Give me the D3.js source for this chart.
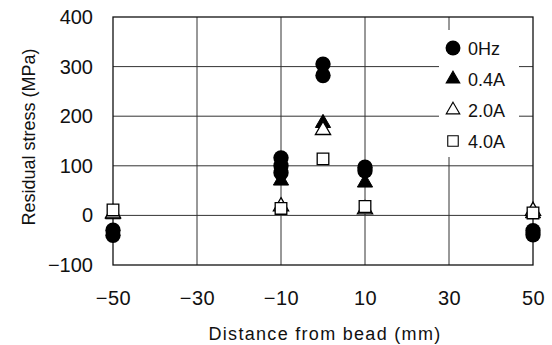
<!DOCTYPE html>
<meta charset="utf-8">
<head>
  <title>Residual stress</title>
</head>
<style>
  body { margin: 0; background: #fff; font-family: "Liberation Sans", Arial, sans-serif; }
  text { fill: #111; }
</style>
<body>
<svg id="chart" width="552" height="345"></svg>
<script src="https://cdnjs.cloudflare.com/ajax/libs/d3/7.8.5/d3.min.js"></script>
<script>
  var xTicks = [-50, -30, -10, 10, 30, 50];
  var yTicks = [-100, 0, 100, 200, 300, 400];

  var hz0 = [[-50, -30], [-50, -40], [-10, 116], [-10, 100], [-10, 86], [0, 305], [0, 282], [10, 97], [10, 90], [50, -31], [50, -39]];
  var a04 = [[-50, 2], [-10, 70], [0, 186], [10, 66], [50, 4]];
  var a20 = [[-50, 4], [-10, 18], [0, 172], [10, 12], [50, 9]];
  var a40 = [[-50, 11], [-10, 14], [0, 114], [10, 18], [50, 5]];
  var seriesNames = ["0Hz", "0.4A", "2.0A", "4.0A"];

  var margin = {left: 113, top: 17, right: 19, bottom: 80};
  var w = 552 - margin.left - margin.right;
  var h = 345 - margin.top - margin.bottom;

  var svg = d3.select('#chart');
  var g = svg.append('g').attr('transform', 'translate(' + margin.left + ',' + margin.top + ')');

  var x = d3.scaleLinear().domain([-50, 50]).range([0, w]);
  var y = d3.scaleLinear().domain([-100, 400]).range([h, 0]);

  // grid
  g.selectAll('.vg').data(xTicks.slice(1, -1)).enter().append('line')
    .attr('x1', d => x(d)).attr('x2', d => x(d)).attr('y1', 0).attr('y2', h)
    .attr('stroke', '#333').attr('stroke-width', 1);
  g.selectAll('.hg').data(yTicks.slice(1, -1)).enter().append('line')
    .attr('y1', d => y(d)).attr('y2', d => y(d)).attr('x1', 0).attr('x2', w)
    .attr('stroke', '#333').attr('stroke-width', 1);

  // legend box hides grid
  var leg = g.append('g').attr('transform', 'translate(' + (x(30) - 10) + ',' + 13 + ')');
  leg.append('rect').attr('width', 80).attr('height', 127).attr('fill', '#fff');

  g.append('rect').attr('width', w).attr('height', h)
    .attr('fill', 'none').attr('stroke', '#111').attr('stroke-width', 1.3);

  var fmt = d => d3.format('')(d).replace('-', '\u2212');

  var xAxis = d3.axisBottom(x).tickValues(xTicks).tickSize(0).tickPadding(26).tickFormat(fmt);
  g.append('g').attr('transform', 'translate(0,' + h + ')').call(xAxis)
    .call(s => s.select('.domain').remove())
    .selectAll('text').attr('font-size', 20).attr('font-family', 'Liberation Sans, Arial, sans-serif')
    .attr('fill', '#111').attr('letter-spacing', 0.5);

  var yAxis = d3.axisLeft(y).tickValues(yTicks).tickSize(0).tickPadding(20).tickFormat(fmt);
  g.append('g').call(yAxis)
    .call(s => s.select('.domain').remove())
    .selectAll('text').attr('font-size', 20).attr('font-family', 'Liberation Sans, Arial, sans-serif')
    .attr('fill', '#111');

  svg.append('text').attr('x', margin.left + w / 2 + 2).attr('y', 340)
    .attr('text-anchor', 'middle').attr('font-size', 18).attr('letter-spacing', 1.3)
    .text('Distance from bead (mm)');
  svg.append('text').attr('transform', 'translate(35,137) rotate(-90)')
    .attr('text-anchor', 'middle').attr('font-size', 18)
    .text('Residual stress (MPa)');

  var circle = d3.symbol().type(d3.symbolCircle).size(185);
  var tri = d3.symbol().type(d3.symbolTriangle).size(100);
  var sq = d3.symbol().type(d3.symbolSquare).size(135);

  var styles = [
    {sym: circle, fill: '#000', stroke: 'none', sw: 0, data: hz0, ls: d3.symbol().type(d3.symbolCircle).size(175)},
    {sym: tri, fill: '#000', stroke: '#000', sw: 1, data: a04, ls: d3.symbol().type(d3.symbolTriangle).size(80)},
    {sym: tri, fill: '#fff', stroke: '#000', sw: 1.3, data: a20, ls: d3.symbol().type(d3.symbolTriangle).size(80)},
    {sym: sq, fill: '#fff', stroke: '#000', sw: 1.3, data: a40, ls: d3.symbol().type(d3.symbolSquare).size(110)}
  ];

  styles.forEach(function(s) {
    g.append('g').selectAll('path').data(s.data).enter().append('path')
      .attr('d', s.sym)
      .attr('transform', d => 'translate(' + x(d[0]) + ',' + y(d[1]) + ')')
      .attr('fill', s.fill).attr('stroke', s.stroke).attr('stroke-width', s.sw);
  });

  styles.forEach(function(s, i) {
    var row = leg.append('g').attr('transform', 'translate(14,' + (18 + i * 31) + ')');
    row.append('path').attr('d', s.ls).attr('fill', s.fill)
      .attr('stroke', s.stroke).attr('stroke-width', s.sw > 0 ? 1.1 : 0);
    row.append('text').attr('x', 15).attr('y', 7).attr('font-size', 18).text(seriesNames[i]);
  });
</script>
</body>
</html>
